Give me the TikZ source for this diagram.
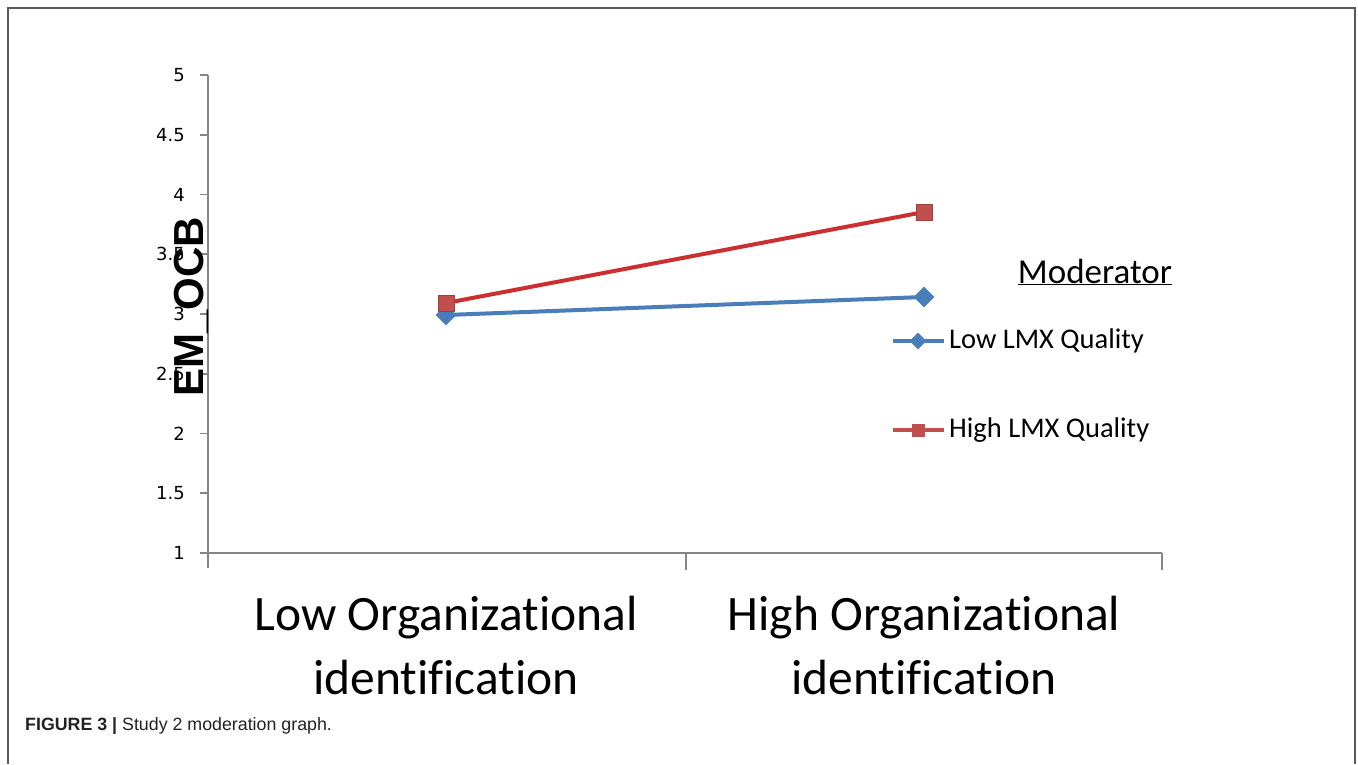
\documentclass[tikz,border=0pt]{standalone}
\usepackage{fontspec}
\setmainfont{Carlito}[Ligatures={NoCommon,NoContextual,NoRare}]
\newfontfamily\tickfont{DejaVu Sans}
\newfontfamily\arialfont{Liberation Sans}
\usetikzlibrary{shapes.geometric,backgrounds}
\definecolor{lowblue}{HTML}{4A7EBB}
\definecolor{highred}{HTML}{C0504D}
\definecolor{redline}{HTML}{CC2F2F}
\definecolor{axisgray}{HTML}{868686}
\definecolor{framegray}{HTML}{5A5A5A}
\definecolor{captiongray}{HTML}{222222}
\tikzset{
  sqmark/.style={rectangle,draw=highred!80!black,fill=highred,minimum size=16pt,inner sep=0pt,line width=0.6pt},
  diamark/.style={diamond,fill=lowblue,minimum width=21pt,minimum height=21pt,inner sep=0pt},
  sqmarksmall/.style={rectangle,fill=highred,minimum size=13pt,inner sep=0pt},
  diamarksmall/.style={diamond,fill=lowblue,minimum width=17pt,minimum height=17pt,inner sep=0pt},
  blueline/.style={draw=lowblue,line width=4pt},
  redline/.style={draw=redline,line width=4pt},
  axisline/.style={draw=axisgray,line width=1.6pt},
  ticklabel/.style={anchor=east,font=\tickfont\fontsize{18}{20}\selectfont,inner sep=0pt},
  xlabel/.style={align=center,font=\fontsize{49.5}{64}\selectfont,inner sep=0pt},
  legendtext/.style={anchor=west,font=\fontsize{28.5}{30}\selectfont,inner sep=0pt},
}
\begin{document}
\begin{tikzpicture}[x=1pt,y=-1pt]
\useasboundingbox (0,0) rectangle (1358,764);
\fill[white] (0,0) rectangle (1358,764);
% frame
\draw[framegray,line width=2pt] (8,764) -- (8,8) -- (1355,8) -- (1355,764);
% axes
\coordinate (yaxtop) at (208,75);
\coordinate (yaxbot) at (208,568);
\coordinate (origin) at (208,553);
\coordinate (xaxend) at (1162,553);
\draw[axisline] (yaxtop) -- (yaxbot);
\draw[axisline] (200,553) -- (xaxend);
\coordinate (xt1) at (686,553);
\coordinate (xt1b) at (686,570);
\coordinate (xt2b) at (1162,570);
\draw[axisline] (xt1) -- (xt1b);
\draw[axisline] (xaxend) -- (xt2b);
% y ticks and labels
\foreach \v/\lab in {1/1,1.5/1.5,2/2,2.5/2.5,3/3,3.5/3.5,4/4,4.5/4.5,5/5}{
  \pgfmathsetmacro{\yy}{553-(\v-1)*119.5}
  \draw[axisline] (200,\yy) -- (208,\yy);
  \node[ticklabel] (yl\lab) at (185,\yy) {\lab};
}
% y axis title
\node[rotate=90,font=\arialfont\bfseries\fontsize{42}{44}\selectfont,inner sep=0pt] (ytitle) at (191,307) {EM\_OCB};
% data
\coordinate (b1) at (446,315);
\coordinate (b2) at (924,297);
\coordinate (r1) at (446,303);
\coordinate (r2) at (924,212);
\draw[blueline] (b1) -- (b2);
\draw[redline] (r1) -- (r2);
\node[diamark] (bm1) at (b1) {};
\node[diamark] (bm2) at (b2) {};
\node[sqmark] (rm1) at (r1) {};
\node[sqmark] (rm2) at (r2) {};
% x labels
\node[xlabel] (xl1) at (446,645) {Low Organizational\\identification};
\node[xlabel] (xl2) at (924,645) {High Organizational\\identification};
% legend
\node[font=\fontsize{35}{38}\selectfont,inner sep=0pt] (legtitle) at (1095,272) {\underline{Moderator}};
\coordinate (lb1) at (893,341);
\coordinate (lb2) at (944,341);
\draw[draw=lowblue,line width=4pt] (lb1) -- (lb2);
\node[diamarksmall] (lbm) at (918,341) {};
\node[legendtext] (lbt) at (949,341) {Low LMX Quality};
\coordinate (lr1) at (893,430);
\coordinate (lr2) at (944,430);
\draw[draw=highred,line width=4pt] (lr1) -- (lr2);
\node[sqmarksmall] (lrm) at (918,430) {};
\node[legendtext] (lrt) at (949,430) {High LMX Quality};
% caption
\node[anchor=base west,text=captiongray,font=\arialfont\fontsize{17.8}{20}\selectfont,inner sep=0pt] (caption) at (25,730) {\textbf{FIGURE 3 |} Study 2 moderation graph.};
\end{tikzpicture}
\end{document}
